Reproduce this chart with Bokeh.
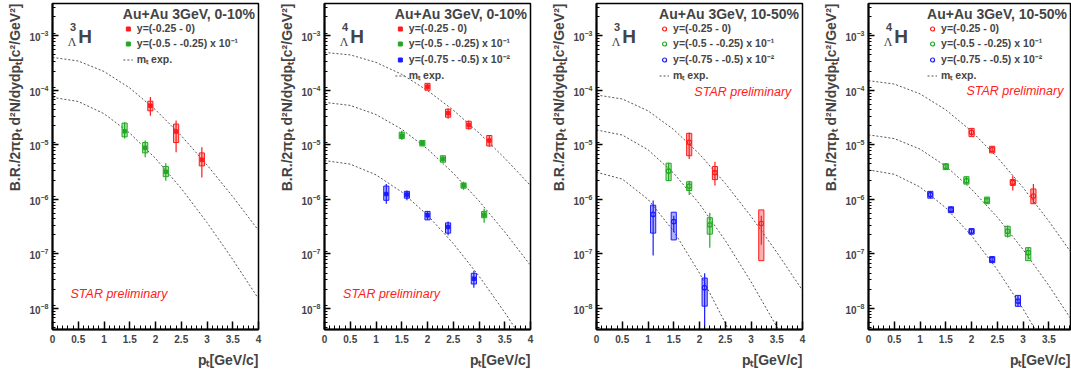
from bokeh.plotting import figure
from bokeh.layouts import row
from bokeh.models import (Range1d, LogTicker, SingleIntervalTicker, NumeralTickFormatter,
                          Legend, LegendItem, Label, Title, ColumnDataSource)
from bokeh.embed import file_html
from bokeh.resources import INLINE

# ---------------- data ----------------
CURVE_PT = [0.0, 0.5, 1.0, 1.5, 2.0, 2.5, 3.0, 3.5, 4.0]

# Panel 1: 3LH, Au+Au 3GeV 0-10%
H3C010_Y0_PT = [1.9, 2.4, 2.9]
H3C010_Y0_VAL = [5.2e-5, 1.75e-5, 5.3e-6]
H3C010_Y0_STAT_LO = [3.4e-5, 7.3e-6, 2.5e-6]
H3C010_Y0_STAT_HI = [7.5e-5, 2.8e-5, 9.0e-6]
H3C010_Y0_SYS_LO = [4.2e-5, 1.1e-5, 4.1e-6]
H3C010_Y0_SYS_HI = [6.3e-5, 2.4e-5, 7.1e-6]
H3C010_Y1_PT = [1.4, 1.8, 2.2]
H3C010_Y1_VAL = [1.77e-5, 8.8e-6, 3.2e-6]
H3C010_Y1_STAT_LO = [1.3e-5, 5.9e-6, 2.2e-6]
H3C010_Y1_STAT_HI = [2.6e-5, 1.2e-5, 4.6e-6]
H3C010_Y1_SYS_LO = [1.4e-5, 7.1e-6, 2.6e-6]
H3C010_Y1_SYS_HI = [2.5e-5, 1.1e-5, 4.0e-6]
H3C010_Y0_FIT = [4.0e-4, 3.44e-4, 2.21e-4, 1.10e-4, 4.39e-5, 1.47e-5, 4.27e-6, 1.12e-6, 2.69e-7]
H3C010_Y1_FIT = [7.41e-5, 6.22e-5, 3.72e-5, 1.64e-5, 5.64e-6, 1.58e-6, 3.76e-7, 7.88e-8, 1.50e-8]

# Panel 2: 4LH, Au+Au 3GeV 0-10%
H4C010_Y0_PT = [2.0, 2.4, 2.8, 3.2]
H4C010_Y0_VAL = [1.16e-4, 3.8e-5, 2.3e-5, 1.2e-5]
H4C010_Y0_STAT_LO = [1.02e-4, 3.0e-5, 1.9e-5, 9.3e-6]
H4C010_Y0_STAT_HI = [1.32e-4, 4.7e-5, 2.8e-5, 1.5e-5]
H4C010_Y0_SYS_LO = [1.0e-4, 3.2e-5, 1.97e-5, 9.5e-6]
H4C010_Y0_SYS_HI = [1.34e-4, 4.5e-5, 2.7e-5, 1.48e-5]
H4C010_Y1_PT = [1.5, 1.9, 2.3, 2.7, 3.1]
H4C010_Y1_VAL = [1.47e-5, 1.07e-5, 5.5e-6, 1.8e-6, 5.2e-7]
H4C010_Y1_STAT_LO = [1.24e-5, 9.5e-6, 4.8e-6, 1.5e-6, 3.7e-7]
H4C010_Y1_STAT_HI = [1.8e-5, 1.2e-5, 6.3e-6, 2.1e-6, 6.7e-7]
H4C010_Y1_SYS_LO = [1.3e-5, 9.5e-6, 4.8e-6, 1.6e-6, 4.6e-7]
H4C010_Y1_SYS_HI = [1.7e-5, 1.2e-5, 6.3e-6, 2.0e-6, 6.0e-7]
H4C010_Y2_PT = [1.2, 1.6, 2.0, 2.4, 2.9]
H4C010_Y2_VAL = [1.25e-6, 1.22e-6, 5.1e-7, 3.1e-7, 3.5e-8]
H4C010_Y2_STAT_LO = [8.3e-7, 9.6e-7, 4.2e-7, 2.2e-7, 2.4e-8]
H4C010_Y2_STAT_HI = [1.9e-6, 1.45e-6, 6.0e-7, 3.9e-7, 4.9e-8]
H4C010_Y2_SYS_LO = [9.6e-7, 1.05e-6, 4.2e-7, 2.4e-7, 2.8e-8]
H4C010_Y2_SYS_HI = [1.75e-6, 1.4e-6, 6.0e-7, 3.7e-7, 4.4e-8]
H4C010_Y0_FIT = [4.94e-4, 4.45e-4, 3.25e-4, 1.96e-4, 9.9e-5, 4.32e-5, 1.65e-5, 5.68e-6, 1.79e-6]
H4C010_Y1_FIT = [6.0e-5, 5.27e-5, 3.59e-5, 1.93e-5, 8.37e-6, 3.02e-6, 9.33e-7, 2.52e-7, 6.14e-8]
H4C010_Y2_FIT = [5.14e-6, 4.42e-6, 2.81e-6, 1.36e-6, 5.12e-7, 1.55e-7, 3.91e-8, 8.43e-9, 1.61e-9]

# Panel 3: 3LH, Au+Au 3GeV 10-50%
H3C1050_Y0_PT = [1.8, 2.3, 3.2]
H3C1050_Y0_VAL = [1.11e-5, 3.1e-6, 3.6e-7]
H3C1050_Y0_STAT_LO = [5.5e-6, 1.8e-6, 1.47e-7]
H3C1050_Y0_STAT_HI = [1.68e-5, 4.9e-6, 5.0e-7]
H3C1050_Y0_SYS_LO = [6.3e-6, 2.3e-6, 7.5e-8]
H3C1050_Y0_SYS_HI = [1.62e-5, 4.0e-6, 6.4e-7]
H3C1050_Y1_PT = [1.4, 1.8, 2.2]
H3C1050_Y1_VAL = [3.3e-6, 1.75e-6, 3.4e-7]
H3C1050_Y1_STAT_LO = [2.2e-6, 1.2e-6, 1.3e-7]
H3C1050_Y1_STAT_HI = [4.7e-6, 2.2e-6, 5.7e-7]
H3C1050_Y1_SYS_LO = [2.2e-6, 1.45e-6, 2.3e-7]
H3C1050_Y1_SYS_HI = [4.6e-6, 2.1e-6, 4.6e-7]
H3C1050_Y2_PT = [1.1, 1.5, 2.1]
H3C1050_Y2_VAL = [5.3e-7, 3.9e-7, 2.4e-8]
H3C1050_Y2_STAT_LO = [9.3e-8, 2.5e-7, 3.0e-9]
H3C1050_Y2_STAT_HI = [9.5e-7, 5.0e-7, 4.4e-8]
H3C1050_Y2_SYS_LO = [2.4e-7, 1.8e-7, 1.1e-8]
H3C1050_Y2_SYS_HI = [7.8e-7, 5.8e-7, 3.6e-8]
H3C1050_Y0_FIT = [8.2e-5, 6.92e-5, 4.20e-5, 1.90e-5, 6.75e-6, 1.96e-6, 4.88e-7, 1.07e-7, 2.14e-8]
H3C1050_Y1_FIT = [1.87e-5, 1.51e-5, 8.11e-6, 3.01e-6, 8.24e-7, 1.76e-7, 3.08e-8, 4.63e-9, 6.2e-10]
H3C1050_Y2_FIT = [3.14e-6, 2.35e-6, 1.00e-6, 2.60e-7, 4.45e-8, 5.41e-9, 5.0e-10, 3.8e-11, 2.5e-12]

# Panel 4: 4LH, Au+Au 3GeV 10-50%
H4C1050_Y0_PT = [2.0, 2.4, 2.8, 3.2]
H4C1050_Y0_VAL = [1.7e-5, 8.2e-6, 2.05e-6, 1.15e-6]
H4C1050_Y0_STAT_LO = [1.45e-5, 7.2e-6, 1.45e-6, 8.5e-7]
H4C1050_Y0_STAT_HI = [2.0e-5, 9.3e-6, 2.7e-6, 1.9e-6]
H4C1050_Y0_SYS_LO = [1.41e-5, 7.1e-6, 1.8e-6, 8.3e-7]
H4C1050_Y0_SYS_HI = [2.0e-5, 9.4e-6, 2.3e-6, 1.55e-6]
H4C1050_Y1_PT = [1.5, 1.9, 2.3, 2.7, 3.1]
H4C1050_Y1_VAL = [4.0e-6, 2.2e-6, 9.5e-7, 2.6e-7, 1.05e-7]
H4C1050_Y1_STAT_LO = [3.5e-6, 1.9e-6, 8.3e-7, 2.0e-7, 8.0e-8]
H4C1050_Y1_STAT_HI = [4.5e-6, 2.6e-6, 1.1e-6, 3.3e-7, 1.3e-7]
H4C1050_Y1_SYS_LO = [3.5e-6, 1.9e-6, 8.3e-7, 2.1e-7, 7.5e-8]
H4C1050_Y1_SYS_HI = [4.5e-6, 2.6e-6, 1.1e-6, 3.2e-7, 1.3e-7]
H4C1050_Y2_PT = [1.2, 1.6, 2.0, 2.4, 2.9]
H4C1050_Y2_VAL = [1.22e-6, 6.5e-7, 2.6e-7, 7.9e-8, 1.36e-8]
H4C1050_Y2_STAT_LO = [1.05e-6, 5.7e-7, 2.3e-7, 6.9e-8, 1.09e-8]
H4C1050_Y2_STAT_HI = [1.4e-6, 7.3e-7, 2.9e-7, 8.9e-8, 1.73e-8]
H4C1050_Y2_SYS_LO = [1.05e-6, 5.7e-7, 2.3e-7, 6.9e-8, 1.09e-8]
H4C1050_Y2_SYS_HI = [1.4e-6, 7.3e-7, 2.9e-7, 8.9e-8, 1.73e-8]
H4C1050_Y0_FIT = [1.50e-4, 1.30e-4, 8.59e-5, 4.38e-5, 1.77e-5, 5.87e-6, 1.64e-6, 3.97e-7, 8.59e-8]
H4C1050_Y1_FIT = [1.52e-5, 1.30e-5, 8.34e-6, 4.05e-6, 1.53e-6, 4.70e-7, 1.20e-7, 2.62e-8, 5.05e-9]
H4C1050_Y2_FIT = [3.47e-6, 2.88e-6, 1.68e-6, 6.98e-7, 2.15e-7, 5.12e-8, 9.75e-9, 1.54e-9, 2.1e-10]

LEGEND_LABELS = ["y=(-0.25 - 0)", "y=(-0.5 - -0.25) x 10\u207b\u00b9", "y=(-0.75 - -0.5) x 10\u207b\u00b2"]
FIT_LABEL = "m\u209c exp."
X_TITLE = "p\u209c[GeV/c]"
Y_TITLE = "B.R./2\u03c0p\u209c d\u00b2N/dydp\u209c[c\u00b2/GeV\u00b2]"

# ---------------- style ----------------
COLORS = ["#ff1a1a", "#22a822", "#1a1aff"]
FONT = "Liberation Sans"
BOX_HW = 0.05


def series(prefix, i):
    g = globals()
    k = f"{prefix}_Y{i}_"
    return dict(pt=g[k + "PT"], val=g[k + "VAL"], slo=g[k + "STAT_LO"], shi=g[k + "STAT_HI"],
                ylo=g[k + "SYS_LO"], yhi=g[k + "SYS_HI"], fit=g[k + "FIT"])


def make_panel(prefix, nser, leg_title, nucleon, open_marker, star_xy, width, xend, mbr):
    p = figure(width=width, height=379, x_range=Range1d(0, xend), y_range=Range1d(4.1e-9, 3.9e-3),
               y_axis_type="log", output_backend="svg", toolbar_location=None,
               min_border_left=51, min_border_right=mbr, min_border_top=3, min_border_bottom=50,
               background_fill_color="white", border_fill_color="white")
    p.xgrid.visible = False
    p.ygrid.visible = False
    p.outline_line_color = "black"
    p.outline_line_width = 1.5
    p.outline_line_alpha = 1.0

    xa = p.xaxis[0]
    xa.ticker = SingleIntervalTicker(interval=0.5, num_minor_ticks=5)
    xa.formatter = NumeralTickFormatter(format="0.[0]")
    ya = p.yaxis[0]
    ya.ticker = LogTicker(num_minor_ticks=9, desired_num_ticks=6)
    for ax, tin, min_in, stand in ((xa, 8, 4, 5), (ya, 6, 3, 4)):
        ax.major_tick_in = tin
        ax.major_tick_out = 0
        ax.minor_tick_in = min_in
        ax.minor_tick_out = 0
        ax.axis_line_width = 2
        ax.major_tick_line_width = 1.5
        ax.minor_tick_line_width = 1
        ax.major_label_text_font = FONT
        ax.major_label_text_font_style = "bold"
        ax.major_label_text_font_size = "10px"
        ax.major_label_standoff = stand

    p.add_layout(Title(text=Y_TITLE, align="right", text_font=FONT, text_font_style="bold",
                       text_font_size="14px", standoff=8), "left")
    p.add_layout(Title(text=X_TITLE, align="right", text_font=FONT, text_font_style="bold",
                       text_font_size="14px", standoff=9), "below")

    items = []
    fit_r = None
    for i in range(nser):
        s = series(prefix, i)
        c = COLORS[i]
        fit_r = p.line(CURVE_PT, s["fit"], line_color="#555555", line_width=1, line_dash="2 2")
        src = ColumnDataSource(dict(pt=s["pt"], val=s["val"], slo=s["slo"], shi=s["shi"],
                                    ylo=s["ylo"], yhi=s["yhi"],
                                    l=[x - BOX_HW for x in s["pt"]], r=[x + BOX_HW for x in s["pt"]]))
        p.quad(left="l", right="r", bottom="ylo", top="yhi", source=src, fill_color=c,
               fill_alpha=0.35, line_color=c, line_width=1)
        p.segment(x0="pt", y0="slo", x1="pt", y1="shi", source=src, line_color=c, line_width=1.2)
        if open_marker:
            mr = p.scatter(x="pt", y="val", source=src, marker="circle", size=4.5, fill_color=None,
                           line_color=c, line_width=1.2)
        else:
            mr = p.scatter(x="pt", y="val", source=src, marker="square", size=3.5, fill_color=c,
                           line_color=c)
        items.append(LegendItem(label=LEGEND_LABELS[i], renderers=[mr]))
    items.append(LegendItem(label=FIT_LABEL, renderers=[fit_r]))

    leg = Legend(items=items, location="top_right", title=leg_title,
                 title_text_font=FONT, title_text_font_style="bold", title_text_font_size="14px",
                 title_standoff=0, label_text_font=FONT, label_text_font_style="bold",
                 label_text_font_size="10.5px", glyph_width=10, glyph_height=11, label_height=11,
                 label_standoff=4, spacing=2, padding=1, margin=2,
                 background_fill_alpha=0, border_line_alpha=0)
    p.add_layout(leg)

    # nucleus label
    p.add_layout(Label(x=0.50, y=9.8e-4, text="H", text_font=FONT, text_font_style="bold",
                       text_font_size="19px", text_baseline="middle", text_align="left"))
    p.add_layout(Label(x=0.46, y=1.45e-3, text=nucleon, text_font=FONT, text_font_style="bold",
                       text_font_size="11px", text_baseline="middle", text_align="right"))
    p.add_layout(Label(x=0.465, y=7.6e-4, text="\u039b", text_font="Liberation Serif",
                       text_font_size="12px", text_baseline="middle", text_align="right"))
    p.add_layout(Label(x=star_xy[0], y=star_xy[1], text="STAR preliminary", text_font=FONT,
                       text_font_style="italic", text_font_size="12.5px", text_color="#ff2020",
                       text_baseline="middle", text_align="left"))
    return p


p1 = make_panel("H3C010", 2, "Au+Au 3GeV, 0-10%", "3", False, (0.35, 1.8e-8), 272, 4.0, 14)
p2 = make_panel("H4C010", 3, "Au+Au 3GeV, 0-10%", "4", False, (0.36, 1.8e-8), 272, 4.0, 14)
p3 = make_panel("H3C1050", 3, "Au+Au 3GeV, 10-50%", "3", True, (1.90, 9.4e-5), 272, 4.0, 14)
p4 = make_panel("H4C1050", 3, "Au+Au 3GeV, 10-50%", "4", True, (1.90, 9.7e-5), 255, 3.92, 1)

layout = row(p1, p2, p3, p4)
open("out.html", "w").write(file_html(layout, INLINE))
